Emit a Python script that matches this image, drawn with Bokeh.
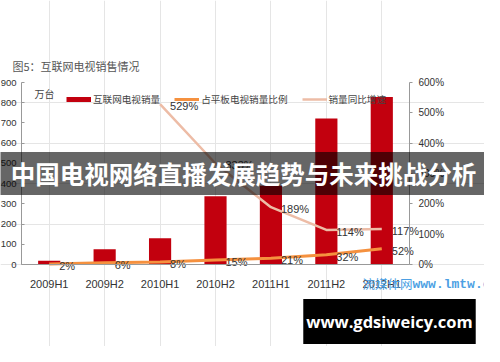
from bokeh.plotting import figure
from bokeh.models import (Range1d, LinearAxis, FixedTicker, PrintfTickFormatter,
                          Label, Legend, LegendItem)
from bokeh.core.properties import value
from bokeh.embed import file_html
from bokeh.resources import INLINE

# ---- data ----
categories = ["2009H1", "2009H2", "2010H1", "2010H2", "2011H1", "2011H2", "2012H1"]
sales = [18, 75, 130, 338, 390, 722, 828]            # 万台
share_pct = [2, 6, 8, 15, 21, 32, 52]                # 占平板电视销量比例 (%)
growth_pct = [None, None, 529, 333, 189, 114, 117]   # 销量同比增速 (%)
left_ticks = [0, 100, 200, 300, 400, 500, 600, 700, 800, 900]
right_ticks = [0, 100, 200, 300, 400, 500, 600]

title_text = "图5：互联网电视销售情况"
unit_text = "万台"
series_names = ["互联网电视销量", "占平板电视销量比例", "销量同比增速"]
banner_text = "中国电视网络直播发展趋势与未来挑战分析"
site_text = "www.gdsiweicy.com"
wm_cn = "流媒体网"
wm_en = "www.lmtw.com"

RED = "#C2000E"
ORANGE = "#F5913F"
PEACH = "#EDBCA6"
CJK = "Noto Sans CJK SC"
LAT = "Liberation Sans"

W, H = 484, 346
# page geometry of the plotting area (page px; canvas starts at page 8)
AX_L, AX_R, AX_B, AX_T = 29, 417, 272, 90
n = len(categories)
ux = (AX_R - AX_L) / n            # px per category
uy = (AX_B - AX_T) / 900.0        # px per sales unit

xpos = list(range(n))

p = figure(width=W, height=H, output_backend="svg", toolbar_location=None,
           x_axis_location=None, y_axis_location=None,
           min_border=0, min_border_left=0, min_border_right=0,
           min_border_top=0, min_border_bottom=0)
p.x_range = Range1d(-0.5 - (AX_L - 8) / ux, n - 0.5 + (492 - AX_R) / ux)
p.y_range = Range1d(-(354 - AX_B) / uy, (AX_B - 8) / uy)
k = 600 / 900.0
p.extra_y_ranges = {"pct": Range1d(-(354 - AX_B) / uy * k, (AX_B - 8) / uy * k)}
p.outline_line_color = None
p.background_fill_color = "white"
p.border_fill_color = "white"

# bars
p.vbar(x=xpos, top=sales, width=0.4, fill_color=RED, line_color=None)

# growth line
g_x = [i for i, g in zip(xpos, growth_pct) if g is not None]
g_y = [g for g in growth_pct if g is not None]
r_growth = p.line(x=g_x, y=g_y, y_range_name="pct", line_color=PEACH, line_width=2.5)
# share line
r_share = p.line(x=xpos, y=share_pct, y_range_name="pct", line_color=ORANGE, line_width=3)

# data labels
lab_kw = dict(x_offset=10, y_offset=2, text_align="left", text_baseline="middle",
              text_font=value(LAT), text_font_size="11px", text_color="#333333")
p.text(x=g_x, y=g_y, text=[f"{g}%" for g in g_y], y_range_name="pct", **lab_kw)
p.text(x=xpos, y=share_pct, text=[f"{s}%" for s in share_pct],
       y_range_name="pct", **lab_kw)

# axes (fixed at the chart area's edges)
ax = LinearAxis(fixed_location=0, bounds=(-0.5, n - 0.5),
                ticker=FixedTicker(ticks=xpos),
                major_label_overrides={i: c for i, c in zip(xpos, categories)})
ax.axis_line_color = "#999999"
ax.major_tick_line_color = None
ax.minor_tick_line_color = None
ax.major_label_text_font = LAT
ax.major_label_text_font_size = "11px"
ax.major_label_text_color = "#333333"
ax.major_label_standoff = 7
p.add_layout(ax, "below")

ly = LinearAxis(fixed_location=-0.5, bounds=(0, 900), ticker=FixedTicker(ticks=left_ticks))
ly.axis_line_color = "#999999"
ly.major_tick_line_color = "#999999"
ly.major_tick_in = 3
ly.major_tick_out = 0
ly.minor_tick_line_color = None
ly.major_label_text_font = LAT
ly.major_label_text_font_size = "9.5px"
ly.major_label_text_color = "#333333"
ly.major_label_standoff = 5
p.add_layout(ly, "left")

ry = LinearAxis(y_range_name="pct", fixed_location=n - 0.5, bounds=(0, 600),
                ticker=FixedTicker(ticks=right_ticks),
                formatter=PrintfTickFormatter(format="%d%%"))
ry.axis_line_color = "#999999"
ry.major_tick_line_color = "#999999"
ry.major_tick_in = 0
ry.major_tick_out = 3
ry.minor_tick_line_color = None
ry.major_label_text_font = LAT
ry.major_label_text_font_size = "10px"
ry.major_label_text_color = "#333333"
ry.major_label_standoff = 6
p.add_layout(ry, "right")

# legend: red swatch from a legend-only line (NaN data => nothing drawn on chart)
r_key = p.line(x=[0], y=[float("nan")], line_color=RED, line_width=5, line_cap="butt")
legend = Legend(items=[LegendItem(label=series_names[0], renderers=[r_key]),
                       LegendItem(label=series_names[1], renderers=[r_share]),
                       LegendItem(label=series_names[2], renderers=[r_growth])],
                orientation="horizontal", location=(66, 240),
                glyph_width=25, glyph_height=12, label_height=12, label_width=10,
                label_standoff=2, spacing=14, padding=0, margin=0,
                border_line_color=None, background_fill_alpha=0,
                label_text_font=CJK, label_text_font_size="9.6px",
                label_text_color="#444444")
p.add_layout(legend)

# helper: page coords -> frame screen coords (frame == whole canvas)
def sx(px):
    return px - 8

def sy(py):
    return 354 - py

p.add_layout(Label(x=sx(20), y=sy(73), x_units="screen", y_units="screen",
                   text=title_text, text_font=CJK, text_font_size="11px",
                   text_color="#555555", text_baseline="middle"))
p.add_layout(Label(x=sx(42), y=sy(101), x_units="screen", y_units="screen",
                   text=unit_text, text_font=CJK, text_font_size="10px",
                   text_color="#444444", text_baseline="middle"))

# watermark
p.add_layout(Label(x=sx(370), y=sy(291), x_units="screen", y_units="screen",
                   text=wm_cn, text_font=CJK, text_font_size="12.5px",
                   text_color="#4C9FE3", text_baseline="middle"))
p.add_layout(Label(x=sx(420), y=sy(292), x_units="screen", y_units="screen",
                   text=wm_en, text_font="Liberation Mono", text_font_size="13px",
                   text_font_style="bold", text_color="#4C9FE3", text_baseline="middle"))

# banner
p.add_layout(Label(x=sx(251), y=sy(181), x_units="screen", y_units="screen",
                   text=banner_text, text_font=CJK, text_font_size="24.5px",
                   text_font_style="bold", text_color="white",
                   text_align="center", text_baseline="middle",
                   background_fill_color="black", background_fill_alpha=0.6,
                   padding=(15, 4)))

# site box
p.add_layout(Label(x=sx(397), y=sy(329), x_units="screen", y_units="screen",
                   text=site_text, text_font="Open Sans", text_font_size="16.5px",
                   text_font_style="bold", text_color="white",
                   text_align="center", text_baseline="middle",
                   background_fill_color="black", background_fill_alpha=1.0,
                   padding=(3, 11)))

open("out.html", "w").write(file_html(p, INLINE))
